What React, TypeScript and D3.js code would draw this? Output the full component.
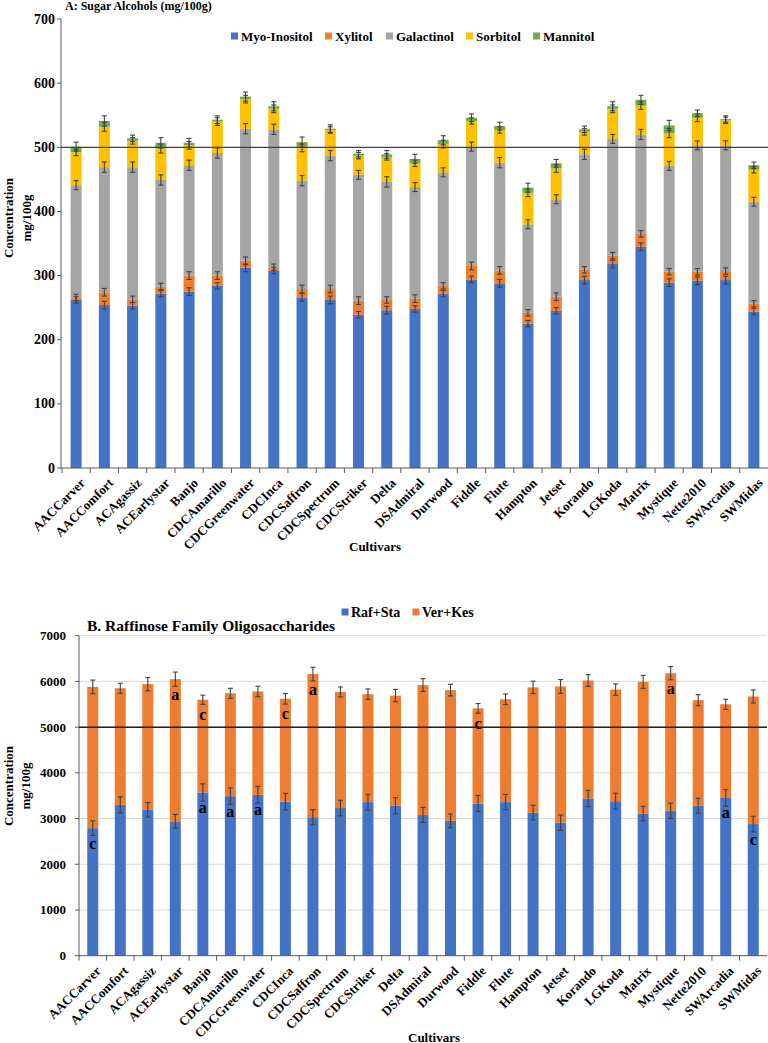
import React from "react";
import * as d3 from "d3";

const cultivars = [
  "AACCarver", "AACComfort", "ACAgassiz", "ACEarlystar", "Banjo", "CDCAmarillo",
  "CDCGreenwater", "CDCInca", "CDCSaffron", "CDCSpectrum", "CDCStriker", "Delta",
  "DSAdmiral", "Durwood", "Fiddle", "Flute", "Hampton", "Jetset", "Korando",
  "LGKoda", "Matrix", "Mystique", "Nette2010", "SWArcadia", "SWMidas",
];

// Chart A: sugar alcohols (mg/100g), stacked segment values
const sugarNames = ["Myo-Inositol", "Xylitol", "Galactinol", "Sorbitol", "Mannitol"];
const myoInositol = [262, 254, 253, 272, 275, 284, 312, 308, 266, 262, 239, 246, 248, 272, 294, 288, 225, 245, 293, 318, 345, 289, 292, 293, 244];
const xylitol = [4, 20, 10, 11, 25, 16, 11, 5, 13, 17, 22, 16, 16, 12, 21, 20, 17, 22, 16, 13, 20, 17, 14, 14, 12];
const galactinol = [175, 195, 206, 166, 172, 191, 206, 215, 169, 208, 196, 184, 174, 177, 186, 168, 138, 152, 180, 182, 155, 165, 197, 196, 159];
const sorbitol = [51, 63, 41, 49, 31, 49, 46, 32, 51, 40, 30, 39, 37, 44, 40, 51, 49, 48, 35, 47, 45, 51, 43, 39, 50];
const mannitol = [9, 9, 4, 9, 4, 3, 4, 4, 9, 2, 3, 4, 7, 6, 5, 6, 8, 8, 4, 4, 9, 12, 7, 2, 7];
const myoErr = [5, 6, 5, 5, 6, 5, 6, 5, 6, 6, 5, 6, 5, 5, 5, 6, 5, 5, 6, 6, 6, 6, 6, 6, 5];
const xylErr = [5, 6, 5, 5, 6, 6, 6, 5, 6, 6, 6, 5, 6, 5, 6, 6, 5, 6, 5, 5, 5, 5, 5, 5, 5];
const galErr = [7, 8, 8, 8, 8, 8, 8, 8, 8, 8, 7, 8, 7, 7, 7, 8, 7, 7, 8, 7, 8, 7, 7, 7, 7];
const sorErr = [5, 7, 5, 7, 6, 6, 6, 6, 6, 5, 5, 5, 5, 6, 5, 5, 6, 6, 5, 6, 6, 7, 6, 5, 5];
const manErr = [7, 8, 5, 8, 7, 6, 7, 7, 8, 6, 5, 6, 7, 7, 6, 6, 7, 6, 5, 7, 7, 8, 5, 5, 5];
const sugarTicks = [0, 100, 200, 300, 400, 500, 600, 700];
const sugarRef = 500;

// Chart B: raffinose family oligosaccharides
const rfoNames = ["Raf+Sta", "Ver+Kes"];
const rafSta = [2790, 3300, 3190, 2940, 3570, 3490, 3520, 3370, 3030, 3230, 3360, 3280, 3080, 2950, 3330, 3360, 3130, 2910, 3440, 3380, 3110, 3170, 3280, 3450, 2880];
const verKes = [3090, 2550, 2750, 3110, 2030, 2250, 2260, 2250, 3130, 2540, 2360, 2410, 2840, 2860, 2080, 2250, 2740, 2980, 2580, 2440, 2880, 3010, 2310, 2050, 2790];
const rafErr = [160, 175, 160, 150, 190, 180, 185, 180, 165, 170, 170, 175, 165, 150, 175, 168, 160, 168, 178, 175, 157, 168, 164, 182, 170];
const verErr = [150, 110, 145, 155, 100, 110, 115, 115, 150, 110, 115, 135, 140, 128, 105, 115, 135, 150, 128, 125, 142, 145, 120, 110, 142];
const rafLetters = ["c", "", "", "", "a", "a", "a", "", "", "", "", "", "", "", "", "", "", "", "", "", "", "", "", "a", "c"];
const verLetters = ["", "", "", "a", "c", "", "", "c", "a", "", "", "", "", "", "c", "", "", "", "", "", "", "a", "", "", ""];
const rfoTicks = [0, 1000, 2000, 3000, 4000, 5000, 6000, 7000];
const rfoRef = 5000;

const sugarColors = ["#4472C4", "#ED7D31", "#A5A5A5", "#FFC000", "#70AD47"];
const rfoColors = ["#4472C4", "#ED7D31"];
const FONT = "'Liberation Serif', 'Times New Roman', serif";
const ERR = "#404040";

function ErrorBar({ x, y0, y1 }: { x: number; y0: number; y1: number }) {
  return (
    <g stroke={ERR} strokeWidth={1.1}>
      <line x1={x} x2={x} y1={y0} y2={y1} />
      <line x1={x - 2.5} x2={x + 2.5} y1={y0} y2={y0} />
      <line x1={x - 2.5} x2={x + 2.5} y1={y1} y2={y1} />
    </g>
  );
}

function ChartA() {
  const x = d3.scaleBand<string>().domain(cultivars).range([62, 768]).paddingInner(0.61).paddingOuter(0.305);
  const y = d3.scaleLinear().domain([0, 700]).range([468, 19]);
  const rows = cultivars.map((c, i) => ({
    cultivar: c,
    "Myo-Inositol": myoInositol[i],
    Xylitol: xylitol[i],
    Galactinol: galactinol[i],
    Sorbitol: sorbitol[i],
    Mannitol: mannitol[i],
  }));
  const errs = [myoErr, xylErr, galErr, sorErr, manErr];
  const stack = d3.stack<any>().keys(sugarNames)(rows);
  const bw = x.bandwidth();
  const step = x.step();
  const legendX = [231, 325, 386, 466, 533];
  return (
    <g>
      <text x={65} y={6} fontSize={12} dominantBaseline="central">A: Sugar Alcohols (mg/100g)</text>
      {/* axes */}
      <line x1={61} x2={61} y1={19} y2={468} stroke="#595959" />
      {sugarTicks.map((t) => (
        <g key={t}>
          <line x1={57} x2={61} y1={y(t)} y2={y(t)} stroke="#595959" />
          <text x={55} y={y(t)} fontSize={14} textAnchor="end" dominantBaseline="central">{t}</text>
        </g>
      ))}
      {stack.map((layer, si) => (
        <g key={si} fill={sugarColors[si]}>
          {layer.map((d, i) => (
            <rect key={i} x={x(cultivars[i])!} width={bw} y={y(d[1])} height={y(d[0]) - y(d[1])} />
          ))}
        </g>
      ))}
      {stack.map((layer, si) => (
        <g key={"e" + si}>
          {layer.map((d, i) => (
            <ErrorBar key={i} x={x(cultivars[i])! + bw / 2} y0={y(d[1] + errs[si][i])} y1={y(d[1] - errs[si][i])} />
          ))}
        </g>
      ))}
      <line x1={61} x2={768} y1={468} y2={468} stroke="#595959" />
      {cultivars.map((c, i) => (
        <line key={i} x1={62 + i * step} x2={62 + i * step} y1={468} y2={473} stroke="#595959" />
      ))}
      <line x1={61} x2={768} y1={y(sugarRef)} y2={y(sugarRef)} stroke="#404040" strokeWidth={1.3} />
      {cultivars.map((c) => {
        const cx = x(c)! + bw / 2;
        return (
          <text key={c} transform={`translate(${cx + 3},${477}) rotate(-45)`} fontSize={13} textAnchor="end" dominantBaseline="hanging">{c}</text>
        );
      })}
      <text x={375} y={546} fontSize={13} textAnchor="middle" dominantBaseline="central">Cultivars</text>
      <text transform={`translate(8,218) rotate(-90)`} fontSize={13} textAnchor="middle" dominantBaseline="central">Concentration</text>
      <text transform={`translate(26,218) rotate(-90)`} fontSize={13} textAnchor="middle" dominantBaseline="central">mg/100g</text>
      {sugarNames.map((n, i) => (
        <g key={n}>
          <rect x={legendX[i]} y={32.5} width={7} height={7} fill={sugarColors[i]} />
          <text x={legendX[i] + 10} y={36} fontSize={13} dominantBaseline="central">{n}</text>
        </g>
      ))}
    </g>
  );
}

function ChartB() {
  const x = d3.scaleBand<string>().domain(cultivars).range([79, 767]).paddingInner(0.6).paddingOuter(0.3);
  const y = d3.scaleLinear().domain([0, 7000]).range([955.7, 635.7]);
  const rows = cultivars.map((c, i) => ({ cultivar: c, "Raf+Sta": rafSta[i], "Ver+Kes": verKes[i] }));
  const stack = d3.stack<any>().keys(rfoNames)(rows);
  const errs = [rafErr, verErr];
  const letters = [rafLetters, verLetters];
  const bw = x.bandwidth();
  const step = x.step();
  const legendX = [341.5, 412.5];
  return (
    <g>
      {rfoTicks.filter((t) => t > 0).map((t) => (
        <line key={t} x1={79} x2={767} y1={y(t)} y2={y(t)} stroke="#D9D9D9" />
      ))}
      <text x={87} y={625} fontSize={15.5} dominantBaseline="central">B. Raffinose Family Oligosaccharides</text>
      <line x1={79} x2={79} y1={635.7} y2={955.7} stroke="#595959" />
      {rfoTicks.map((t) => (
        <g key={t}>
          <line x1={75} x2={79} y1={y(t)} y2={y(t)} stroke="#595959" />
          <text x={66} y={y(t)} fontSize={13} textAnchor="end" dominantBaseline="central">{t}</text>
        </g>
      ))}
      {stack.map((layer, si) => (
        <g key={si} fill={rfoColors[si]}>
          {layer.map((d, i) => (
            <rect key={i} x={x(cultivars[i])!} width={bw} y={y(d[1])} height={y(d[0]) - y(d[1])} />
          ))}
        </g>
      ))}
      {stack.map((layer, si) => (
        <g key={"e" + si}>
          {layer.map((d, i) => (
            <ErrorBar key={i} x={x(cultivars[i])! + bw / 2} y0={y(d[1] + errs[si][i])} y1={y(d[1] - errs[si][i])} />
          ))}
        </g>
      ))}
      {stack.map((layer, si) => (
        <g key={"l" + si}>
          {layer.map((d, i) =>
            letters[si][i] ? (
              <text key={i} x={x(cultivars[i])! + bw / 2} y={y(d[1]) + 15} fontSize={16} textAnchor="middle" dominantBaseline="central">{letters[si][i]}</text>
            ) : null
          )}
        </g>
      ))}
      <line x1={79} x2={767} y1={955.7} y2={955.7} stroke="#595959" />
      {cultivars.map((c, i) => (
        <line key={i} x1={79 + i * step} x2={79 + i * step} y1={955.7} y2={960.7} stroke="#595959" />
      ))}
      <line x1={79} x2={767} y1={y(rfoRef)} y2={y(rfoRef)} stroke="#202020" strokeWidth={1.5} />
      {cultivars.map((c) => {
        const cx = x(c)! + bw / 2;
        return (
          <text key={c} transform={`translate(${cx + 2},${965}) rotate(-45)`} fontSize={13} textAnchor="end" dominantBaseline="hanging">{c}</text>
        );
      })}
      <text x={434} y={1037} fontSize={13} textAnchor="middle" dominantBaseline="central">Cultivars</text>
      <text transform={`translate(8,786) rotate(-90)`} fontSize={13} textAnchor="middle" dominantBaseline="central">Concentration</text>
      <text transform={`translate(25,786) rotate(-90)`} fontSize={13} textAnchor="middle" dominantBaseline="central">mg/100g</text>
      {rfoNames.map((n, i) => (
        <g key={n}>
          <rect x={legendX[i]} y={608.5} width={7} height={7} fill={rfoColors[i]} />
          <text x={legendX[i] + 9.5} y={612} fontSize={14} dominantBaseline="central">{n}</text>
        </g>
      ))}
    </g>
  );
}

export default function App() {
  return (
    <svg
      width={768}
      height={1043}
      style={{ position: "absolute", left: 0, top: 0, background: "#fff" }}
      fontFamily={FONT}
      fontWeight="bold"
    >
      <rect width={768} height={1043} fill="#fff" />
      <ChartA />
      <ChartB />
    </svg>
  );
}
